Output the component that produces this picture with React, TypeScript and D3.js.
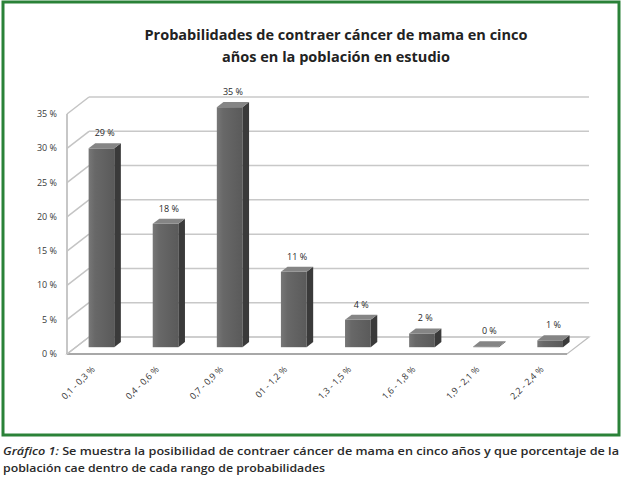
import React from "react";
import * as d3 from "d3";

const categories = ["0,1 - 0,3 %", "0,4 - 0,6 %", "0,7 - 0,9 %", "01 - 1,2 %", "1,3 - 1,5 %", "1,6 - 1,8 %", "1,9 - 2,1 %", "2,2 - 2,4 %"];
const values = [29, 18, 35, 11, 4, 2, 0, 1];
const yTicks = [0, 5, 10, 15, 20, 25, 30, 35];
const titleLines = ["Probabilidades de contraer cáncer de mama en cinco", "años en la población en estudio"];
const captionLead = "Gráfico 1:";
const captionLines = [" Se muestra la posibilidad de contraer cáncer de mama en cinco años y que porcentaje de la", "población cae dentro de cada rango de probabilidades"];

const W = 624;
const H = 480;
const DX = 22;
const DY = -17;
const BAR_F = 0.4;
const BAR_D = 0.3;

export default function App() {
  const x = d3.scaleBand<string>().domain(categories).range([67, 567]).paddingInner(0.6).paddingOuter(0.2);
  const y = d3.scaleLinear().domain([0, 35]).range([354, 114]);
  const bw = x.bandwidth();
  const x0 = 67, x1 = 567;
  const font = "'Open Sans', 'Liberation Sans', sans-serif";
  const sdx = DX * BAR_D, sdy = DY * BAR_D;
  const titleLens = [383, 228];

  return (
    <svg width={W} height={H} style={{ position: "absolute", left: 0, top: 0, background: "#fff" }}>
      <defs>
        <linearGradient id="front" x1="0" x2="1" y1="0" y2="0">
          <stop offset="0" stopColor="#777" />
          <stop offset="0.25" stopColor="#686868" />
          <stop offset="1" stopColor="#5a5a5a" />
        </linearGradient>
      </defs>
      <rect x={3} y={2} width={616} height={433} fill="#fff" stroke="#2a8238" strokeWidth={3} />
      {titleLines.map((t, i) => (
        <text key={i} x={336} y={40 + i * 22} textAnchor="middle" fontFamily={font} fontWeight={700} fontSize={14}
          fill="#222" textLength={titleLens[i]} lengthAdjust="spacingAndGlyphs">{t}</text>
      ))}
      {/* floor */}
      <polygon points={`${x0},${y(0)} ${x1},${y(0)} ${x1 + DX},${y(0) + DY} ${x0 + DX},${y(0) + DY}`} fill="#fff" stroke="#bdbdbd" strokeWidth={1.2} />
      <line x1={x0} x2={x1} y1={y(0)} y2={y(0)} stroke="#a8a8a8" strokeWidth={2} />
      {/* side wall */}
      <line x1={x0} x2={x0} y1={y(0)} y2={y(35)} stroke="#b5b5b5" strokeWidth={1.5} />
      {yTicks.map((v) => (
        <g key={v}>
          <line x1={x0} x2={x0 + DX} y1={y(v)} y2={y(v) + DY} stroke="#c4c4c4" strokeWidth={1.5} />
          <line x1={x0 + DX} x2={x1 + DX} y1={y(v) + DY} y2={y(v) + DY} stroke="#c8c8c8" strokeWidth={1.5} />
          <text x={57} y={y(v) + 3} textAnchor="end" fontFamily={font} fontSize={9} fill="#3a3a3a">{`${v} %`}</text>
        </g>
      ))}
      {/* bars */}
      {categories.map((c, i) => {
        const v = values[i];
        const bx = (x(c) as number) + DX * BAR_F;
        const by0 = y(0) + DY * BAR_F;
        const byt = y(v) + DY * BAR_F;
        const h = Math.max(by0 - byt, 0.8);
        const top = by0 - h;
        return (
          <g key={c}>
            <rect x={bx} y={top} width={bw} height={h} fill="url(#front)" />
            <polygon points={`${bx + bw},${top} ${bx + bw + sdx},${top + sdy} ${bx + bw + sdx},${by0 + sdy} ${bx + bw},${by0}`} fill="#3a3a3a" />
            <polygon points={`${bx},${top} ${bx + sdx},${top + sdy} ${bx + bw + sdx},${top + sdy} ${bx + bw},${top}`} fill="#858585" />
            <text x={bx + (bw + sdx) / 2} y={top + sdy - 7} textAnchor="middle" fontFamily={font} fontSize={9} fill="#2a2a2a">{`${v} %`}</text>
            <text transform={`translate(${bx + bw / 2 - 6},${370}) rotate(-45)`} textAnchor="end" fontFamily={font} fontSize={9} fill="#333">{c}</text>
          </g>
        );
      })}
      <text x={3} y={455} fontFamily={font} fontSize={11} fontWeight={600} fill="#2a2a2a" textLength={616} lengthAdjust="spacingAndGlyphs">
        <tspan fontStyle="italic">{captionLead}</tspan>
        <tspan>{captionLines[0]}</tspan>
      </text>
      <text x={3} y={472} fontFamily={font} fontSize={11} fontWeight={600} fill="#2a2a2a" textLength={322} lengthAdjust="spacingAndGlyphs">{captionLines[1]}</text>
    </svg>
  );
}
